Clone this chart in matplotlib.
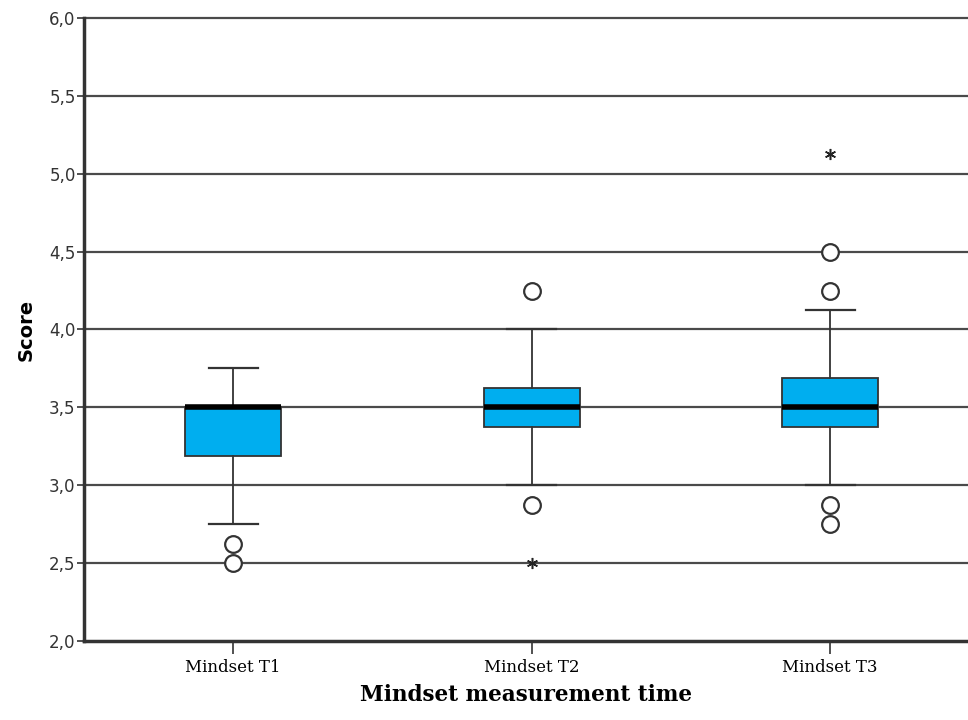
import matplotlib
matplotlib.use("Agg")
import matplotlib.pyplot as plt
from matplotlib.ticker import FuncFormatter

labels = ["Mindset T1", "Mindset T2", "Mindset T3"]
q1 = [3.1875, 3.375, 3.375]
med = [3.5, 3.5, 3.5]
q3 = [3.5, 3.625, 3.6875]
whislo = [2.75, 3.0, 3.0]
whishi = [3.75, 4.0, 4.125]
outliers = [[2.625, 2.5], [4.25, 2.875], [4.5, 4.25, 2.875, 2.75]]
extremes = [[], [2.5], [5.125]]

stats = []
for i in range(len(labels)):
    stats.append({
        "label": labels[i], "q1": q1[i], "med": med[i], "q3": q3[i],
        "whislo": whislo[i], "whishi": whishi[i], "fliers": outliers[i],
    })

fig = plt.figure(figsize=(9.68, 7.2), dpi=100)
ax = fig.add_axes([84 / 968, 79 / 720, 1 - 84 / 968, 623 / 720])

for y in [2.5, 3.0, 3.5, 4.0, 4.5, 5.0, 5.5, 6.0]:
    ax.axhline(y, color="#4a4a4a", lw=1.6, zorder=0, clip_on=False)

ax.bxp(stats, positions=[1, 2, 3], widths=0.32, patch_artist=True,
       boxprops=dict(facecolor="#00aeef", edgecolor="#333333", lw=1.3),
       medianprops=dict(color="black", lw=4),
       whiskerprops=dict(color="#333333", lw=1.3),
       capprops=dict(color="#333333", lw=1.6),
       capwidths=0.165,
       flierprops=dict(marker="o", markersize=12, markerfacecolor="white",
                       markeredgecolor="#333333", markeredgewidth=1.6))

for i, ex in enumerate(extremes):
    if ex:
        ax.plot([i + 1] * len(ex), ex, ls="none", marker=(6, 2, 0), markersize=8,
                color="#222222", mew=1.1)

ax.set_xlim(0.5, 0.5 + 884 / 298.5)
ax.set_ylim(2.0, 6.0)
ax.set_yticks([2.0, 2.5, 3.0, 3.5, 4.0, 4.5, 5.0, 5.5, 6.0])
ax.yaxis.set_major_formatter(FuncFormatter(lambda v, p: f"{v:.1f}".replace(".", ",")))
ax.set_xticks([1, 2, 3])
ax.set_xticklabels(labels, family="DejaVu Serif", fontsize=12)

for lab in ax.get_yticklabels():
    lab.set_fontsize(12)
    lab.set_color("#333333")

ax.tick_params(axis="y", length=5, width=1.2, color="#333333", pad=1)
ax.tick_params(axis="x", length=9, width=1.2, color="#333333", pad=4)

for s in ["top", "right"]:
    ax.spines[s].set_visible(False)
for s in ["left", "bottom"]:
    ax.spines[s].set_linewidth(2.5)
    ax.spines[s].set_color("#333333")

ax.set_ylabel("Score", fontsize=14, fontweight="bold", labelpad=10)
ax.set_xlabel("Mindset measurement time", family="DejaVu Serif", fontsize=15.5,
              fontweight="bold", labelpad=6)

fig.savefig("out.png", dpi=100)
